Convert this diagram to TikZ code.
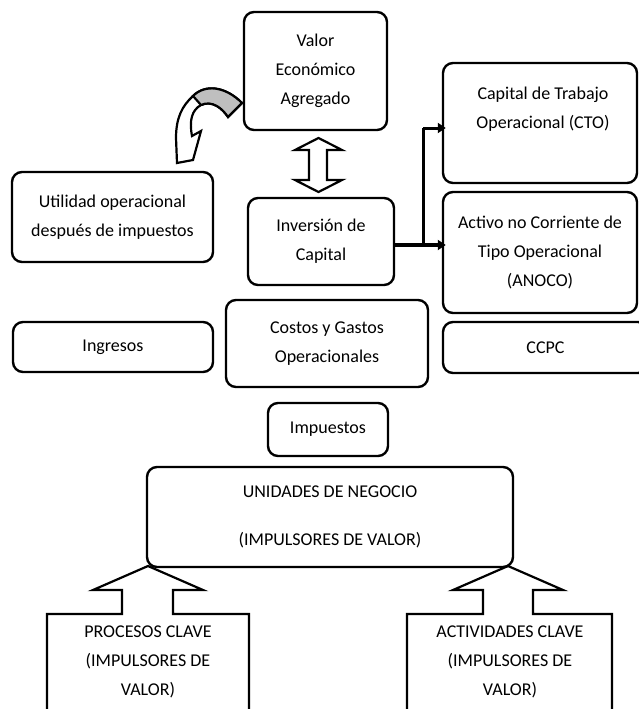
\documentclass[tikz,border=0pt]{standalone}
\usepackage{fontspec}
\setmainfont{Carlito}
\usetikzlibrary{arrows.meta}
\begin{document}
\begin{tikzpicture}[x=1pt,y=-1pt,
  box/.style={draw, line width=2.4pt, rounded corners=10pt, fill=white, align=center, inner sep=0pt, font=\fontsize{18}{29}\selectfont},
  txt/.style={align=center, inner sep=0pt, font=\fontsize{18}{29}\selectfont},
  conn/.style={line width=3pt, -{Triangle[length=8pt,width=10pt]}, shorten >=-4pt},
  blk/.style={draw, line width=2.2pt, line join=miter, fill=white},
  hollow/.style={draw, line width=2.2pt, line join=miter, fill=white}]
\useasboundingbox (0,0) rectangle (639,709);

% bottom block arrows with open boxes
\draw[blk] (47,715) -- (47,614) -- (122,614) -- (122,590) -- (93,590) -- (148,566) -- (203,590) -- (173,590) -- (173,614) -- (249,614) -- (249,715);
\draw[blk] (407,715) -- (407,614) -- (483,614) -- (483,590) -- (453,590) -- (508,566) -- (563,590) -- (533,590) -- (533,614) -- (612,614) -- (612,715);
\node[txt] (pc) at (148,662) {PROCESOS CLAVE\\(IMPULSORES DE\\VALOR)};
\node[txt] (ac) at (510,662) {ACTIVIDADES CLAVE\\(IMPULSORES DE\\VALOR)};

% boxes
\node[box, minimum width=143, minimum height=118] (vea) at (315.5,71) {Valor\\Económico\\Agregado};
\node[box, minimum width=194, minimum height=120] (cto) at (540,123) {};
\node[txt] (ctot) at (543,109) {Capital de Trabajo\\Operacional (CTO)};
\node[box, minimum width=194, minimum height=121] (anoco) at (540,252.5) {Activo no Corriente de\\Tipo Operacional\\(ANOCO)};
\node[box, minimum width=146, minimum height=87] (inv) at (321,241.5) {Inversión de\\Capital};
\node[box, minimum width=201, minimum height=90] (uop) at (112.5,217) {Utilidad operacional\\después de impuestos};
\node[box, minimum width=200, minimum height=50] (ing) at (113,347) {Ingresos};
\node[box, minimum width=202, minimum height=87] (cgo) at (327,343.5) {Costos y Gastos\\Operacionales};
\node[box, minimum width=205, minimum height=51] (ccpc) at (545.5,347.5) {CCPC};
\node[box, minimum width=120, minimum height=53] (imp) at (328,429.5) {Impuestos};
\node[box, minimum width=366, minimum height=100] (un) at (330,517) {UNIDADES DE NEGOCIO\\[19pt](IMPULSORES DE VALOR)};

% connectors from Inversion de Capital
\coordinate (j) at (423,245);
\coordinate (k) at (423,128);
\draw[line width=4pt] (inv.east |- j) -- (j);
\draw[conn, line width=4pt] (j) -- (anoco.west |- j);
\draw[line width=3pt] (j) -- (k);
\draw[conn] (k) -- (cto.west |- k);

% double vertical block arrow
\draw[hollow] (318.5,138) -- (342,150) -- (327,150) -- (327,180) -- (342,180) -- (318.5,192)
  -- (295,180) -- (309,180) -- (309,150) -- (295,150) -- cycle;

% curved arrow
\draw[hollow] (242,103) .. controls (225,86) and (205,84) .. (193,96)
  .. controls (182,106) and (176,118) .. (176,138)
  -- (177,163) -- (193,160) -- (201,131) -- (192,136)
  .. controls (189,120) and (192,110) .. (201,105)
  .. controls (212,100) and (222,108) .. (228,117) -- cycle;
\draw[hollow, fill=black!25] (242,103) .. controls (225,86) and (205,84) .. (193,96)
  -- (201,105) .. controls (212,100) and (222,108) .. (228,117) -- cycle;
\end{tikzpicture}
\end{document}
